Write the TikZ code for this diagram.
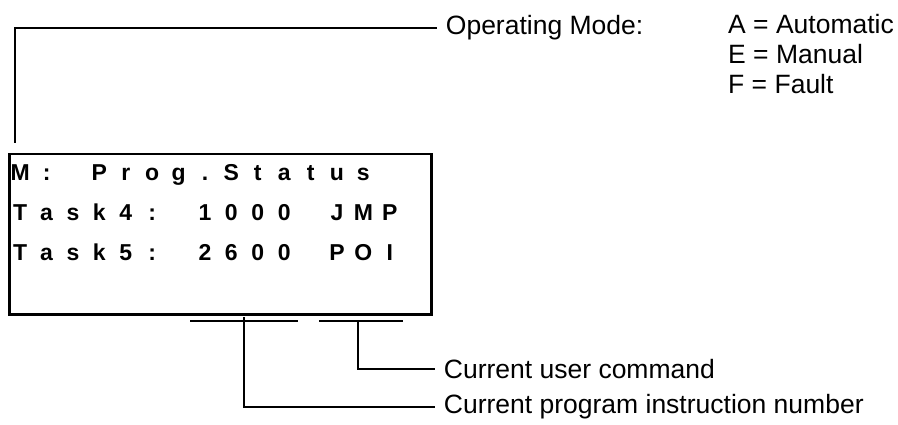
\documentclass[tikz,border=0pt]{standalone}
\usepackage{fontspec}
\setmainfont{Liberation Sans}
\newcommand\lcdch[1]{\makebox[26.4pt][c]{#1}}
\begin{document}
\begin{tikzpicture}[x=1pt,y=-1pt,
  lead/.style={draw=black, line width=1.2pt},
  lbl/.style={font=\fontsize{26.5}{30}\selectfont, anchor=west, inner sep=8.7pt},
  modetxt/.style={font=\fontsize{26.5}{30}\selectfont, anchor=base west, inner sep=0pt},
  lcdrow/.style={font=\fontsize{23}{27}\selectfont\bfseries, anchor=base west, inner sep=0pt}]
\useasboundingbox (0,0) rectangle (898,425);
% LCD box
\node[draw, line width=2.5pt, minimum width=422pt, minimum height=160pt, inner sep=0pt, anchor=north west] (lcd) at (8,153) {};
\node[lcdrow] (r1) at (6.8,181) {\lcdch{M}\lcdch{:}\lcdch{}\lcdch{P}\lcdch{r}\lcdch{o}\lcdch{g}\lcdch{.}\lcdch{S}\lcdch{t}\lcdch{a}\lcdch{t}\lcdch{u}\lcdch{s}};
\node[lcdrow] (r2) at (6.8,221) {\lcdch{T}\lcdch{a}\lcdch{s}\lcdch{k}\lcdch{4}\lcdch{:}\lcdch{}\lcdch{1}\lcdch{0}\lcdch{0}\lcdch{0}\lcdch{}\lcdch{J}\lcdch{M}\lcdch{P}};
\node[lcdrow] (r3) at (6.8,261) {\lcdch{T}\lcdch{a}\lcdch{s}\lcdch{k}\lcdch{5}\lcdch{:}\lcdch{}\lcdch{2}\lcdch{6}\lcdch{0}\lcdch{0}\lcdch{}\lcdch{P}\lcdch{O}\lcdch{I}};
% Operating mode
\node[lbl] (opm) at (437,28) {Operating Mode:};
\coordinate (mstart) at (15,143);
\draw[lead] (mstart) |- (opm.west);
\node[modetxt] (ma) at (728,34) {A = Automatic};
\node[modetxt] (me) at (728,64) {E = Manual};
\node[modetxt] (mf) at (728,94) {F = Fault};
% underline brackets
\coordinate (u1a) at (190,321);
\coordinate (u1b) at (298,321);
\coordinate (u2a) at (319,321);
\coordinate (u2b) at (403,321);
\draw[lead] (u1a) -- (u1b);
\draw[lead] (u2a) -- (u2b);
\node[lbl] (cmd) at (435,369) {Current user command};
\node[lbl] (prog) at (435,407) {Current program instruction number};
\coordinate (p1) at (244,317);
\coordinate (p2) at (358,321);
\draw[lead] (p1) |- (prog.west);
\draw[lead] (p2) |- (cmd.west);
\end{tikzpicture}
\end{document}
